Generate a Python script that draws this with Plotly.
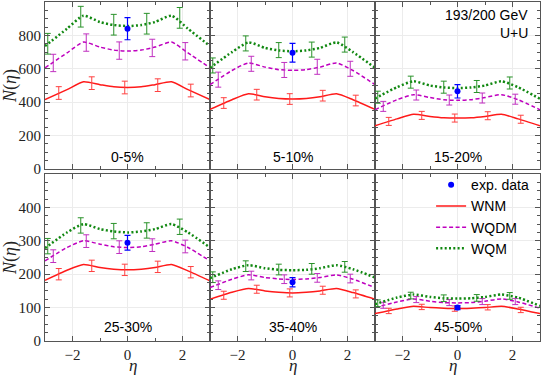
import plotly.graph_objects as go
from plotly.subplots import make_subplots

centralities = ['0-5%', '5-10%', '15-20%', '25-30%', '35-40%', '45-50%']

# eta nodes of the model curves
eta = [-3.0, -2.2, -1.6, -1.0, -0.5, 0.0, 0.5, 1.0, 1.6, 2.2, 3.0]

wnm_curve = [
    [415, 475, 522, 505, 492, 488, 492, 505, 522, 475, 415],
    [357, 415, 450, 432, 422, 419, 422, 432, 450, 415, 357],
    [259, 300, 328, 315, 307, 305, 307, 315, 328, 300, 259],
    [182, 212, 229, 220, 215, 213, 215, 220, 229, 210, 180],
    [125, 146, 157, 150, 146, 144, 146, 150, 157, 145, 125],
    [82, 96, 104, 100, 98, 97, 98, 100, 104, 96, 82],
]
wqdm_curve = [
    [606, 695, 760, 730, 712, 706, 712, 730, 760, 695, 606],
    [505, 590, 635, 610, 595, 591, 595, 610, 635, 590, 505],
    [355, 415, 445, 428, 415, 411, 415, 428, 445, 415, 355],
    [240, 280, 300, 290, 282, 280, 282, 290, 300, 280, 240],
    [160, 185, 198, 190, 186, 184, 186, 190, 198, 185, 160],
    [100, 117, 126, 119, 115, 114, 115, 119, 126, 117, 98],
]
wqm_curve = [
    [736, 840, 918, 880, 862, 856, 862, 880, 918, 840, 736],
    [606, 700, 758, 725, 710, 705, 710, 725, 758, 700, 606],
    [422, 490, 525, 500, 488, 485, 488, 500, 525, 490, 420],
    [278, 325, 350, 335, 328, 325, 328, 335, 350, 325, 280],
    [188, 215, 227, 218, 213, 212, 213, 218, 227, 215, 190],
    [110, 130, 139, 132, 128, 127, 128, 132, 139, 130, 105],
]

# points with error bars (staggered in eta)
eta_wnm_err = [-2.5, -1.3, -0.1, 1.1, 2.3]
eta_wqdm_err = [-2.7, -1.5, -0.3, 0.9, 2.1]
eta_wqm_err = [-2.9, -1.7, -0.5, 0.7, 1.9]

wnm_pts = [
    [455, 514, 488, 502, 470],
    [395, 445, 419, 439, 410],
    [285, 321, 305, 319, 298],
    [200, 225, 213, 222, 206],
    [137, 155, 144, 152, 141],
    [90, 102, 97, 101, 93],
]
wqdm_pts = [
    [635, 757, 709, 725, 705],
    [535, 630, 593, 612, 600],
    [375, 443, 413, 425, 418],
    [254, 299, 281, 287, 283],
    [167, 196, 185, 189, 187],
    [107, 124, 115, 118, 118],
]
wqm_pts = [
    [750, 912, 864, 870, 905],
    [620, 752, 712, 715, 745],
    [430, 520, 490, 494, 515],
    [284, 346, 329, 331, 342],
    [191, 224, 214, 216, 222],
    [113, 136, 128, 129, 135],
]
wnm_err = [38, 32, 24, 17, 12, 8]
wqdm_err = [52, 45, 30, 19, 13, 9]
wqm_err = [62, 45, 36, 23, 16, 10]

exp_val = [840, 696, 465, 294, 176, 100]
exp_err = [66, 56, 40, 22, 14, 6]

RED = '#ff1a1a'
MAG = '#bf00bf'
GRN = '#118811'
BLUE = '#0000ff'

SERIF = 'Liberation Serif'
SANS = 'Liberation Sans'

fig = make_subplots(rows=2, cols=3, horizontal_spacing=0, vertical_spacing=5 / 339)

models = [
    ('WNM', wnm_curve, eta_wnm_err, wnm_pts, wnm_err, RED, dict(width=1.5), '#ff4040'),
    ('WQDM', wqdm_curve, eta_wqdm_err, wqdm_pts, wqdm_err, MAG, dict(width=1.5, dash='4px,2.5px'), '#c030c0'),
    ('WQM', wqm_curve, eta_wqm_err, wqm_pts, wqm_err, GRN, dict(width=2.5, dash='2px,2.3px'), '#2a922a'),
]

for i, cent in enumerate(centralities):
    r, c = i // 3 + 1, i % 3 + 1
    for name, curve, eta_e, pts, err, col, line, ecol in models:
        fig.add_trace(go.Scatter(
            x=eta, y=curve[i], mode='lines', name=name,
            line=dict(color=col, shape='spline', smoothing=0.6, **line),
            showlegend=(i == 0), legendrank=2 if name == 'WNM' else (3 if name == 'WQDM' else 4),
        ), row=r, col=c)
        fig.add_trace(go.Scatter(
            x=eta_e, y=pts[i], mode='markers',
            marker=dict(size=1, color='rgba(0,0,0,0)'),
            error_y=dict(type='constant', value=err[i], color=ecol, thickness=1, width=3),
            showlegend=False, hoverinfo='skip',
        ), row=r, col=c)
    fig.add_trace(go.Scatter(
        x=[0], y=[exp_val[i]], mode='markers', name='exp. data',
        marker=dict(color=BLUE, size=6),
        error_y=dict(type='constant', value=exp_err[i], color=BLUE, thickness=1.2, width=3),
        showlegend=(i == 0), legendrank=1,
    ), row=r, col=c)
    fig.add_annotation(
        x=0, y=72 if r == 1 else 42, text=cent, showarrow=False,
        font=dict(family=SANS, size=14, color='black'), row=r, col=c,
    )

fig.add_annotation(x=2.64, y=922, text='193/200 GeV', showarrow=False, xanchor='right',
                   font=dict(family=SANS, size=14, color='black'), row=1, col=3)
fig.add_annotation(x=2.64, y=814, text='U+U', showarrow=False, xanchor='right',
                   font=dict(family=SANS, size=14, color='black'), row=1, col=3)

# eta labels under each column
for c in range(3):
    fig.add_annotation(x=(c + 0.5) / 3, y=-0.104, xref='paper', yref='paper', text='<i>η</i>',
                       showarrow=False, yanchor='bottom', borderpad=0,
                       font=dict(family=SERIF, size=17, color='#222'))

axis_style = dict(
    ticks='inside', ticklen=5, tickcolor='#555', tickwidth=1,
    mirror='allticks', showline=True, linecolor='#555', linewidth=1.2,
    showgrid=True, gridcolor='#ececec', gridwidth=1, zeroline=False,
    tickfont=dict(family=SERIF, size=15, color='#222'),
    automargin=False,
)

fig.update_xaxes(range=[-3, 3], tickmode='linear', tick0=0, dtick=2,
                 minor=dict(ticks='inside', tickmode='linear', tick0=0, dtick=1, ticklen=3,
                            tickcolor='#555', showgrid=False),
                 **axis_style)
for c in (1, 2, 3):
    fig.update_xaxes(showticklabels=False, row=1, col=c)

fig.update_yaxes(range=[0, 1000], tickvals=[0, 200, 400, 600, 800],
                 minor=dict(ticks='inside', tickmode='linear', tick0=0, dtick=50, ticklen=3,
                            tickcolor='#555', showgrid=False),
                 row=1, **axis_style)
fig.update_yaxes(range=[0, 500], tickvals=[0, 100, 200, 300, 400],
                 minor=dict(ticks='inside', tickmode='linear', tick0=0, dtick=25, ticklen=3,
                            tickcolor='#555', showgrid=False),
                 row=2, **axis_style)
for r in (1, 2):
    for c in (2, 3):
        fig.update_yaxes(showticklabels=False, row=r, col=c)
    fig.update_yaxes(title=dict(text='<i>N</i>(<i>η</i>)', font=dict(family=SERIF, size=18, color='#222'), standoff=0),
                     row=r, col=1)

fig.update_layout(
    width=544, height=377,
    margin=dict(l=45, r=4, t=2, b=36, autoexpand=False),
    paper_bgcolor='white', plot_bgcolor='white',
    legend=dict(x=0.78, y=0.507, xanchor='left', yanchor='top',
                bgcolor='rgba(0,0,0,0)', font=dict(family=SANS, size=14, color='black'),
                itemwidth=30, tracegroupgap=0),
    showlegend=True,
)

# page body has a default 8px margin; drop it so the figure fills the window
fig.write_html('out.html', post_script="document.body.style.margin='0px';",
               config={'displayModeBar': False})
